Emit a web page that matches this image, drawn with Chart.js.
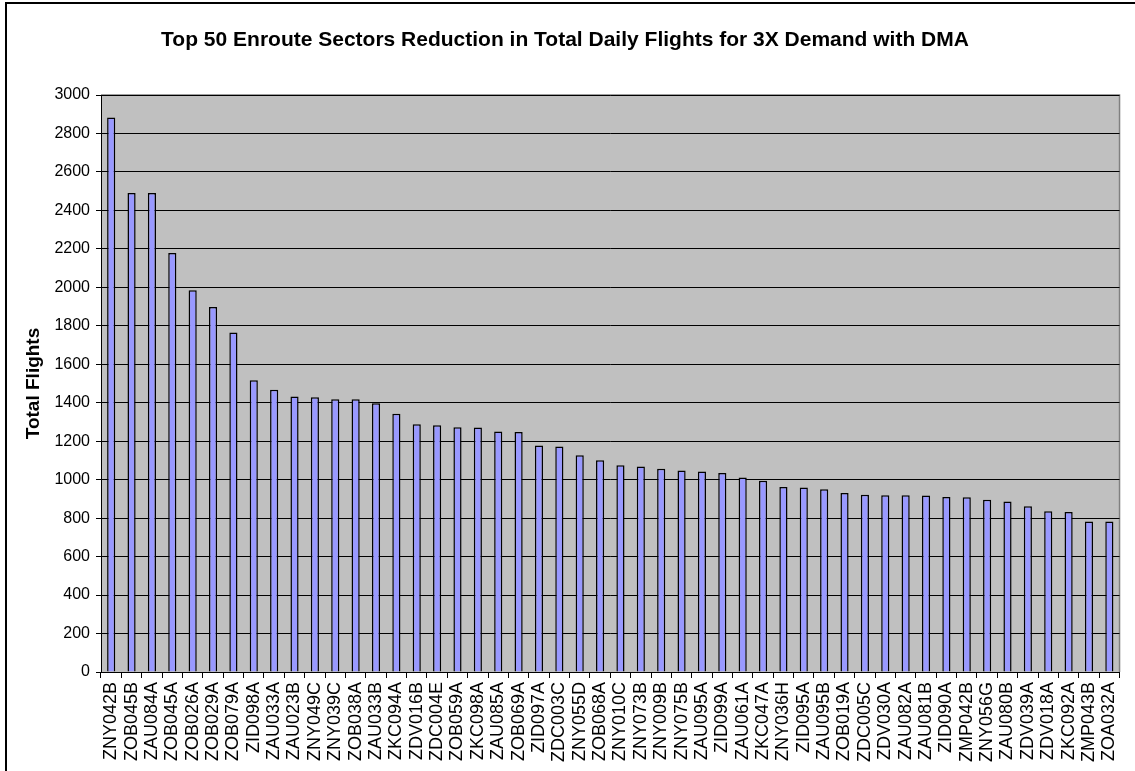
<!DOCTYPE html>
<html>
<head>
<meta charset="utf-8">
<script src="https://cdn.jsdelivr.net/npm/chart.js@4/dist/chart.umd.min.js"></script>
<style>
  html, body { margin: 0; padding: 0; background: #fff; }
  #wrap { width: 1135px; height: 771px; position: relative; }
</style>
</head>
<body>
<div id="wrap"><canvas id="chart" width="1135" height="771"></canvas></div>
<script>
// sector names, in the order shown on the x axis
const sectors = [
  "ZNY042B", "ZOB045B", "ZAU084A", "ZOB045A", "ZOB026A", "ZOB029A", "ZOB079A", "ZID098A", "ZAU033A", "ZAU023B",
  "ZNY049C", "ZNY039C", "ZOB038A", "ZAU033B", "ZKC094A", "ZDV016B", "ZDC004E", "ZOB059A", "ZKC098A", "ZAU085A",
  "ZOB069A", "ZID097A", "ZDC003C", "ZNY055D", "ZOB068A", "ZNY010C", "ZNY073B", "ZNY009B", "ZNY075B", "ZAU095A",
  "ZID099A", "ZAU061A", "ZKC047A", "ZNY036H", "ZID095A", "ZAU095B", "ZOB019A", "ZDC005C", "ZDV030A", "ZAU082A",
  "ZAU081B", "ZID090A", "ZMP042B", "ZNY056G", "ZAU080B", "ZDV039A", "ZDV018A", "ZKC092A", "ZMP043B", "ZOA032A"
];
// total daily flights
const totalFlights = [
  2883, 2490, 2490, 2178, 1985, 1898, 1765, 1517, 1468, 1433,
  1428, 1418, 1418, 1397, 1343, 1288, 1283, 1272, 1271, 1251,
  1248, 1177, 1173, 1127, 1101, 1075, 1069, 1057, 1048, 1043,
  1035, 1011, 995, 962, 959, 950, 931, 922, 919, 919,
  918, 910, 908, 896, 887, 862, 836, 832, 783, 783
];
const yTicks = { min: 0, max: 3000, step: 200 };

const FONT = "Arial, 'Liberation Sans', sans-serif";

// gray plot background + outer frame like the Excel chart
const plotBg = {
  id: "plotBg",
  beforeDraw(chart) {
    const { ctx, chartArea: a } = chart;
    ctx.save();
    ctx.fillStyle = "#C0C0C0";
    ctx.fillRect(a.left, a.top, a.right - a.left, a.bottom - a.top);
    ctx.strokeStyle = "#808080";
    ctx.lineWidth = 1.5;
    ctx.beginPath();
    ctx.moveTo(a.left, a.top);
    ctx.lineTo(a.right, a.top);
    ctx.lineTo(a.right, a.bottom);
    ctx.stroke();
    ctx.restore();
  },
  afterDraw(chart) {
    const ctx = chart.ctx;
    ctx.save();
    ctx.strokeStyle = "#000";
    ctx.lineWidth = 2;
    ctx.beginPath();
    ctx.moveTo(6, chart.height);
    ctx.lineTo(6, 3);
    ctx.lineTo(chart.width, 3);
    ctx.stroke();
    ctx.restore();
  }
};

const ctx = document.getElementById("chart");
new Chart(ctx, {
  type: "bar",
  data: {
    labels: sectors,
    datasets: [
      {
        label: "Total Flights",
        data: totalFlights,
        backgroundColor: "#9999FF",
        borderColor: "#000000",
        borderWidth: 1.5,
        barPercentage: 0.4,
        categoryPercentage: 1.0,
      },
    ],
  },
  options: {
    responsive: false,
    animation: false,
    layout: { padding: { left: 0, right: 5, top: 0, bottom: 0 } },
    plugins: {
      legend: { display: false },
      tooltip: { enabled: false },
      title: {
        display: true,
        text: "Top 50 Enroute Sectors Reduction in Total Daily Flights for 3X Demand with DMA",
        color: "#000",
        font: { family: FONT, size: 21, weight: "bold" },
        padding: { top: 28, bottom: 41.8 },
      },
    },
    scales: {
      x: {
        grid: {
          offset: true,
          drawOnChartArea: false,
          drawTicks: true,
          tickLength: 6,
          color: "#000",
        },
        border: { color: "#000", width: 1 },
        ticks: {
          autoSkip: false,
          maxRotation: 90,
          minRotation: 90,
          padding: 4,
          color: "#000",
          font: { family: FONT, size: 18 },
        },
        afterFit(scale) { scale.height = 99; },
      },
      y: {
        min: yTicks.min,
        max: yTicks.max,
        grid: { color: "#000", lineWidth: 1, tickLength: 5 },
        border: { color: "#000", width: 1 },
        ticks: {
          stepSize: yTicks.step,
          padding: 6,
          color: "#000",
          font: { family: FONT, size: 16 },
          callback: (v) => String(v),
        },
        title: {
          display: true,
          text: "Total Flights",
          color: "#000",
          font: { family: FONT, size: 19, weight: "bold" },
          padding: { top: 22, bottom: 0 },
        },
        afterFit(scale) { scale.width = 101; },
      },
    },
  },
  plugins: [plotBg],
});
</script>
</body>
</html>
